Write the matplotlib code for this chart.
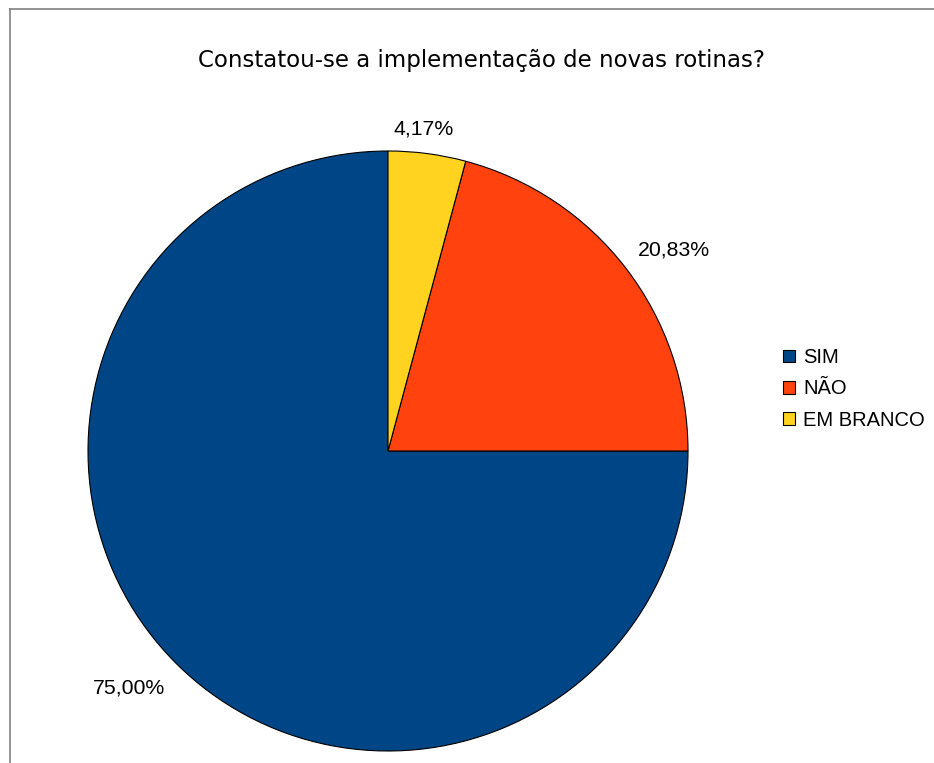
import numpy as np
import matplotlib.pyplot as plt
from matplotlib.lines import Line2D

# dados do grafico
categorias = ['SIM', 'NÃO', 'EM BRANCO']
valores = [75.00, 20.83, 4.17]
cores = ['#004586', '#ff420e', '#ffd320']
titulo = 'Constatou-se a implementação de novas rotinas?'

W, H = 934, 763
fig = plt.figure(figsize=(W / 100, H / 100), dpi=100)

# moldura cinza (topo e esquerda)
fig.add_artist(Line2D([10 / W, 1], [1 - 9 / H, 1 - 9 / H], color='#808080', lw=1.2))
fig.add_artist(Line2D([10 / W, 10 / W], [0, 1 - 9 / H], color='#808080', lw=1.2))

cx, cy, r = 388, 451, 300
ax = fig.add_axes([(cx - r) / W, (H - cy - r) / H, 2 * r / W, 2 * r / H])
wedges, _ = ax.pie(valores, colors=cores, startangle=90, counterclock=True,
                   wedgeprops=dict(edgecolor='black', linewidth=0.8))
ax.set_xlim(-1, 1)
ax.set_ylim(-1, 1)
ax.set_aspect('equal')
ax.axis('off')

for w, v in zip(wedges, valores):
    ang = np.deg2rad((w.theta1 + w.theta2) / 2)
    c, s = np.cos(ang), np.sin(ang)
    ha = 'left' if c > 0.3 else ('right' if c < -0.3 else 'center')
    va = 'bottom' if s > 0.3 else ('top' if s < -0.3 else 'center')
    dx = -0.02 if ha == 'center' else 0
    dy = -0.015 if va == 'top' else 0
    ax.text(1.05 * c + dx, 1.05 * s + dy, f'{v:.2f}%'.replace('.', ','), ha=ha, va=va,
            fontsize=15.3, family='Liberation Sans', clip_on=False)

fig.text(481 / W, 1 - 60 / H, titulo, ha='center', va='center', fontsize=16.5,
         family='DejaVu Sans')

leg = fig.legend(wedges, categorias, loc='center left',
                 bbox_to_anchor=(773 / W, 1 - 389 / H), frameon=False,
                 prop={'family': 'Liberation Sans', 'size': 14.5},
                 handlelength=0.6, handleheight=0.6, handletextpad=0.4,
                 labelspacing=0.62, borderpad=0)
for h in leg.legend_handles:
    h.set_linewidth(0.8)

fig.savefig('out.png', dpi=100)
